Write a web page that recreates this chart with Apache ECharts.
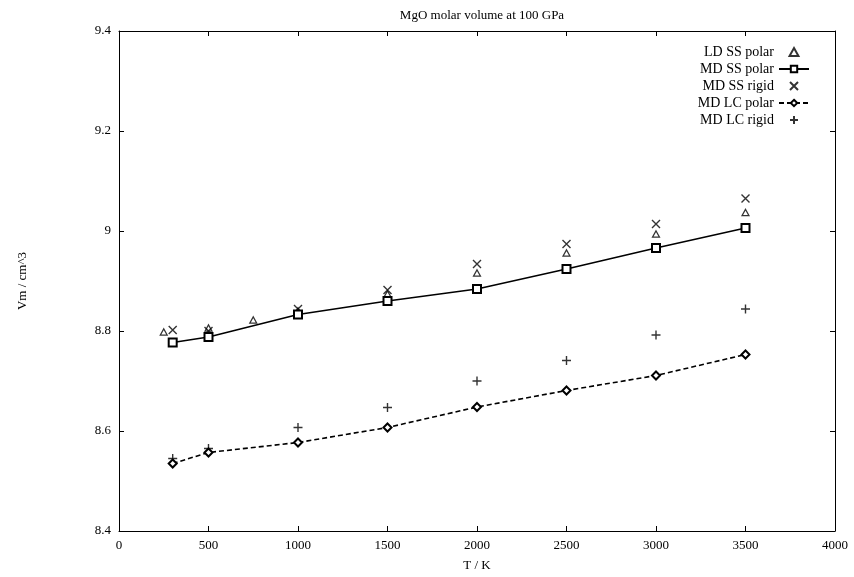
<!DOCTYPE html>
<html>
<head>
<meta charset="utf-8">
<title>MgO molar volume</title>
<script src="https://cdn.jsdelivr.net/npm/echarts@6/dist/echarts.min.js"></script>
<style>
	html, body { margin: 0; padding: 0; background: #fff; }
	#main { width: 854px; height: 577px; }
</style>
</head>
<body>
<div id="main"></div>
<script>
// temperatures (K)
var tLD = [250, 500, 750, 1000, 1500, 2000, 2500, 3000, 3500];
var tMD = [300, 500, 1000, 1500, 2000, 2500, 3000, 3500];

// molar volume (cm^3)
var ldSSpolar = [8.798, 8.806, 8.822, 8.840, 8.874, 8.916, 8.956, 8.994, 9.037];
var mdSSpolar = [8.777, 8.788, 8.833, 8.860, 8.884, 8.924, 8.966, 9.006];
var mdSSrigid = [8.802, 8.800, 8.844, 8.882, 8.934, 8.974, 9.014, 9.065];
var mdLCpolar = [8.535, 8.557, 8.577, 8.607, 8.648, 8.681, 8.711, 8.753];
var mdLCrigid = [8.545, 8.565, 8.607, 8.647, 8.700, 8.741, 8.792, 8.844];

var names = ['LD SS polar', 'MD SS polar', 'MD SS rigid', 'MD LC polar', 'MD LC rigid'];

function pairs(xs, ys) {
	var out = [];
	for (var i = 0; i < xs.length; i++) out.push([xs[i], ys[i]]);
	return out;
}

var serif = '"Liberation Serif", "DejaVu Serif", serif';
var triPath = 'path://M5,0L10,9L0,9Z';
var crossPath = 'path://M0,0L10,10M10,0L0,10';
var plusPath = 'path://M5,0L5,10M0,5L10,5';

var chart = echarts.init(document.getElementById('main'));

// frame axes: bottom/left carry labels, top/right only mirror the ticks
function xAx(pos, labels) {
	return {
		type: 'value', position: pos, min: 0, max: 4000, interval: 500,
		name: labels ? 'T / K' : '', nameLocation: 'middle', nameGap: 28,
		nameTextStyle: { color: '#000', fontFamily: serif, fontSize: 13 },
		axisLine: { show: true, onZero: false, lineStyle: { color: '#000', width: 1 } },
		axisTick: { show: true, inside: true, length: 5, lineStyle: { color: '#000' } },
		axisLabel: {
			show: labels, color: '#000', fontFamily: serif, fontSize: 13, margin: 8,
			formatter: function(v) { return String(v); }
		},
		splitLine: { show: false }
	};
}
function yAx(pos, labels) {
	return {
		type: 'value', position: pos, min: 8.4, max: 9.4, interval: 0.2,
		name: labels ? 'Vm / cm^3' : '', nameLocation: 'middle', nameGap: 90,
		nameTextStyle: { color: '#000', fontFamily: serif, fontSize: 13 },
		axisLine: { show: true, onZero: false, lineStyle: { color: '#000', width: 1 } },
		axisTick: { show: true, inside: true, length: 5, lineStyle: { color: '#000' } },
		axisLabel: { show: labels, color: '#000', fontFamily: serif, fontSize: 13, margin: 8 },
		splitLine: { show: false }
	};
}

var option = {
	backgroundColor: '#fff',
	animation: false,
	title: {
		text: 'MgO molar volume at 100 GPa',
		left: 477, top: 4, textAlign: 'center',
		textStyle: { color: '#000', fontFamily: serif, fontSize: 13, fontWeight: 'normal' }
	},
	legend: {
		data: names,
		orient: 'vertical',
		align: 'right',
		right: 44,
		top: 45,
		itemWidth: 30,
		itemHeight: 8,
		itemGap: 3,
		padding: 0,
		textStyle: { color: '#000', fontFamily: serif, fontSize: 14 }
	},
	grid: { left: 119, right: 19, top: 31, bottom: 44 },
	xAxis: [xAx('bottom', true), xAx('top', false)],
	yAxis: [yAx('left', true), yAx('right', false)],
	series: [
		{
			name: names[0], type: 'scatter', data: pairs(tLD, ldSSpolar),
			symbol: triPath, symbolSize: 7, symbolKeepAspect: true,
			itemStyle: { color: '#fff', borderColor: '#000', borderWidth: 1.2 }
		},
		{
			name: names[1], type: 'line', data: pairs(tMD, mdSSpolar),
			symbol: 'emptyRect', symbolSize: 8,
			lineStyle: { color: '#000', width: 1.6 },
			itemStyle: { color: '#000', borderColor: '#000', borderWidth: 1.2 }
		},
		{
			name: names[2], type: 'scatter', data: pairs(tMD, mdSSrigid),
			symbol: crossPath, symbolSize: 8,
			itemStyle: { color: '#000', borderColor: '#000', borderWidth: 1.4 }
		},
		{
			name: names[3], type: 'line', data: pairs(tMD, mdLCpolar),
			symbol: 'emptyDiamond', symbolSize: 8,
			lineStyle: { color: '#000', width: 1.6, type: [5, 3] },
			itemStyle: { color: '#000', borderColor: '#000', borderWidth: 1.2 }
		},
		{
			name: names[4], type: 'scatter', data: pairs(tMD, mdLCrigid),
			symbol: plusPath, symbolSize: 9,
			itemStyle: { color: '#000', borderColor: '#000', borderWidth: 1.4 }
		}
	]
};
chart.setOption(option);
</script>
</body>
</html>
